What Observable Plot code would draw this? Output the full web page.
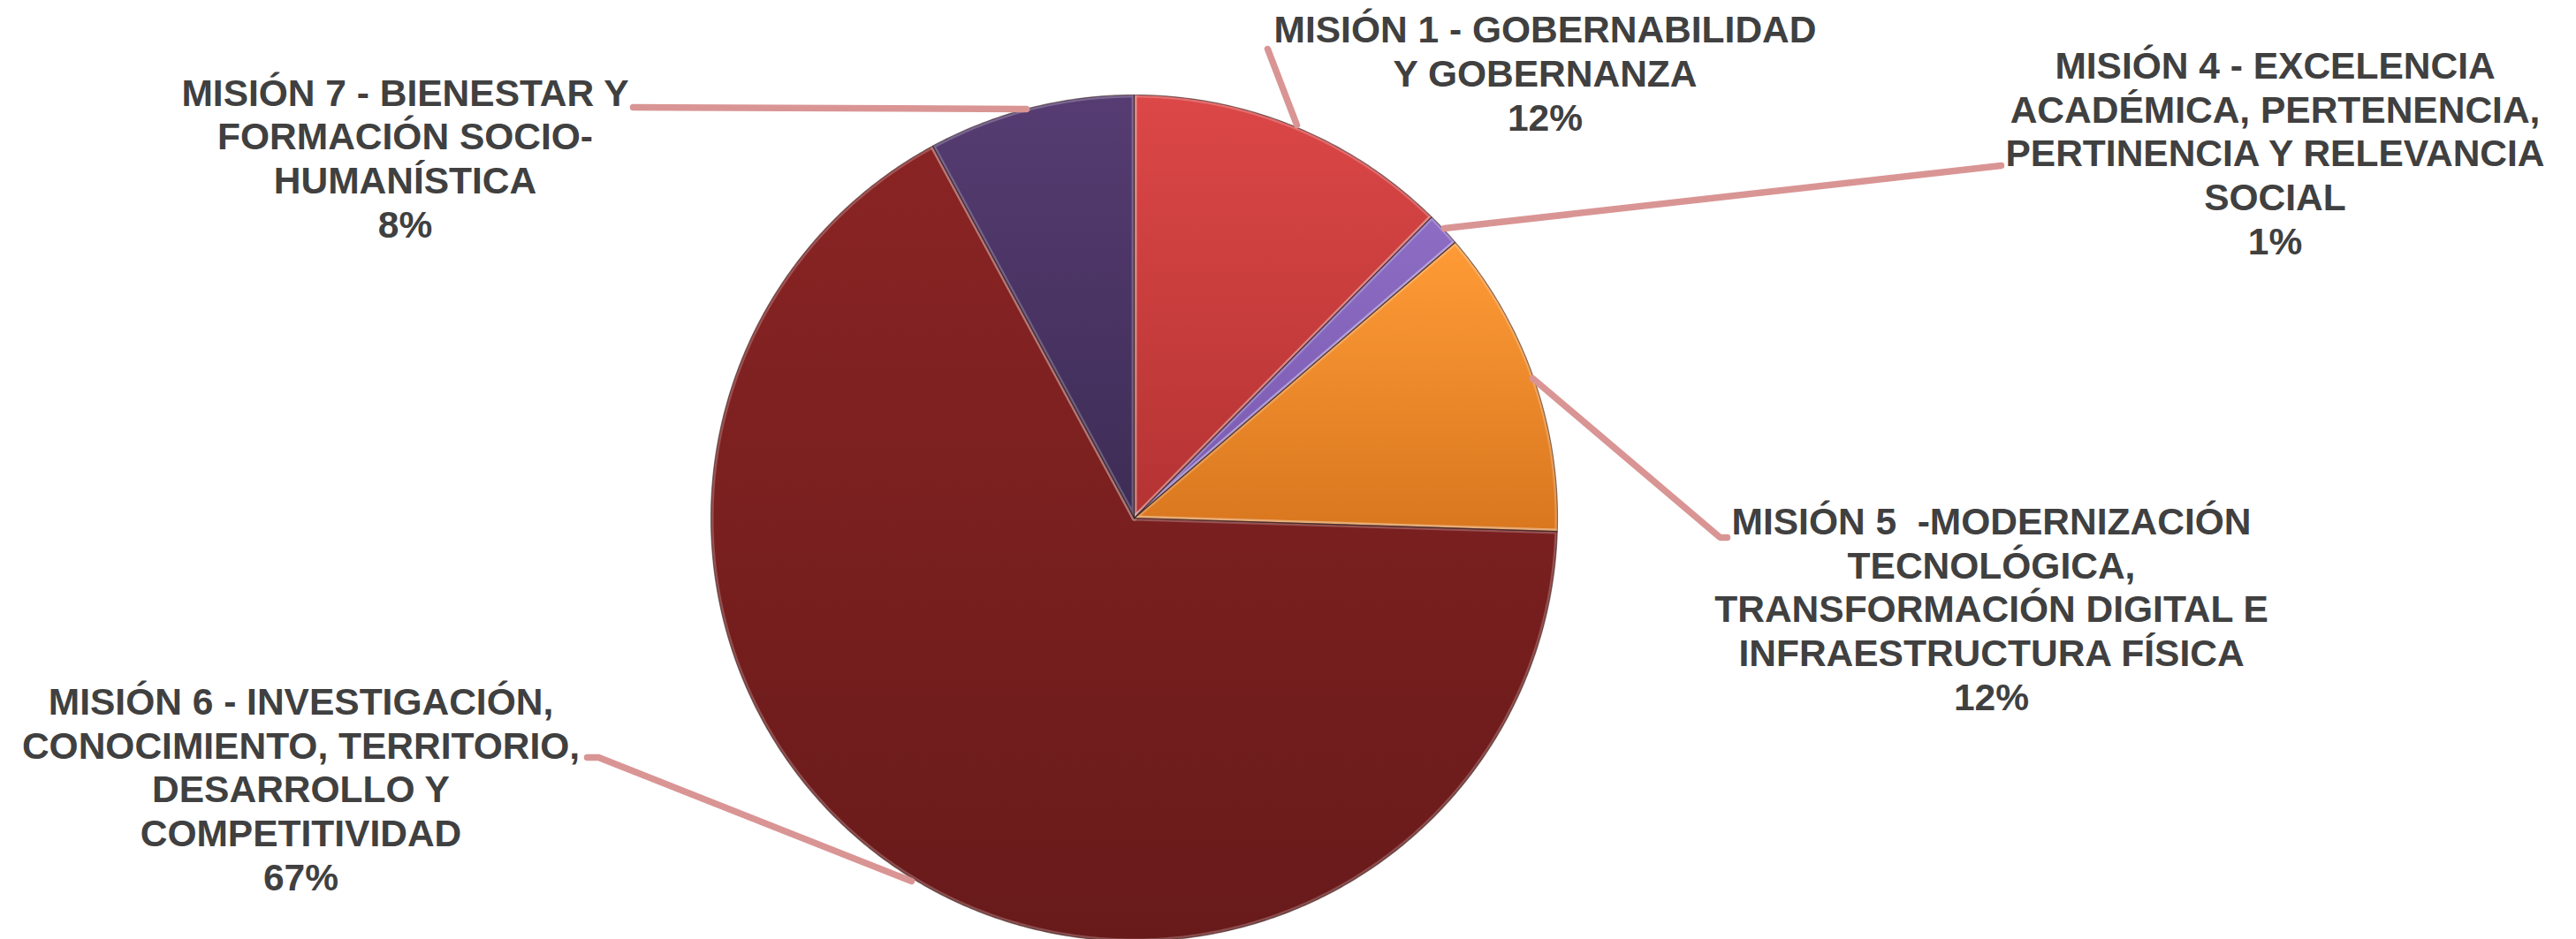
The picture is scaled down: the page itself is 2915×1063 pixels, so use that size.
<!DOCTYPE html>
<html><head><meta charset="utf-8">
<script src="https://cdn.jsdelivr.net/npm/d3@7"></script>
<script src="https://cdn.jsdelivr.net/npm/@observablehq/plot@0.6"></script>
<style>html,body{margin:0;padding:0;background:#fff;overflow:hidden}</style>
</head><body><div id="chart"></div>
<script>
// ---- data ----
const categories = [
  "MISIÓN 1 - GOBERNABILIDAD\nY GOBERNANZA",
  "MISIÓN 4 - EXCELENCIA\nACADÉMICA, PERTENENCIA,\nPERTINENCIA Y RELEVANCIA\nSOCIAL",
  "MISIÓN 5  -MODERNIZACIÓN\nTECNOLÓGICA,\nTRANSFORMACIÓN DIGITAL E\nINFRAESTRUCTURA FÍSICA",
  "MISIÓN 6 - INVESTIGACIÓN,\nCONOCIMIENTO, TERRITORIO,\nDESARROLLO Y\nCOMPETITIVIDAD",
  "MISIÓN 7 - BIENESTAR Y\nFORMACIÓN SOCIO-\nHUMANÍSTICA"
];
const values = [12.4, 1.3, 11.8, 66.6, 7.9];
const colorsTop = ["#dc4747", "#8d6cc4", "#ff9b36", "#8a2424", "#563c72"];
const colorsBottom = ["#b53333", "#7a5bb0", "#d9771f", "#681a1a", "#3d2c55"];

// ---- layout (pixels) ----
const W = 2915, H = 1063;
const pie = {cx: 1283, cy: 586, r: 479};
const labelPos = [ // x center, last baseline
  {x: 1748, y: 147},
  {x: 2574, y: 287},
  {x: 2253, y: 803},
  {x: 340, y: 1007},
  {x: 458, y: 268}
];
const leaderPaths = [
  [[1434, 55], [1467, 141]],
  [[1634, 258], [2264, 187]],
  [[1734, 428], [1946, 608], [1954, 608]],
  [[664, 857], [677, 857], [1031, 997]],
  [[716, 121], [1161, 123]]
];

// ---- derived ----
const arcs = d3.pie().sort(null).startAngle(0).endAngle(2 * Math.PI)(values);
const piePts = [];
arcs.forEach((a, i) => {
  const key = "s" + i, fill = `url(#grad${i})`;
  piePts.push({key, fill, x: pie.cx, y: pie.cy});
  const n = Math.max(2, Math.ceil((a.endAngle - a.startAngle) / (Math.PI / 360)));
  for (let k = 0; k <= n; k++) {
    const t = a.startAngle + (a.endAngle - a.startAngle) * k / n;
    piePts.push({key, fill, x: pie.cx + pie.r * Math.sin(t), y: pie.cy - pie.r * Math.cos(t)});
  }
  piePts.push({key, fill, x: pie.cx, y: pie.cy});
});
const labels = categories.map((c, i) => ({
  x: labelPos[i].x, y: labelPos[i].y,
  text: c + "\n" + Math.round(values[i]) + "%"
}));
const leaderPts = leaderPaths.flatMap((p, i) => p.map(([x, y]) => ({key: i, x, y})));

const defsMark = () => {
  const defs = d3.create("svg:defs");
  values.forEach((v, i) => {
    const g = defs.append("linearGradient").attr("id", "grad" + i)
      .attr("x1", 0).attr("y1", 0).attr("x2", 0).attr("y2", 1);
    g.append("stop").attr("offset", "0%").attr("stop-color", colorsTop[i]);
    g.append("stop").attr("offset", "100%").attr("stop-color", colorsBottom[i]);
  });
  return defs.node();
};

const chart = Plot.plot({
  width: W, height: H,
  margin: 0,
  x: {axis: null, domain: [0, W], range: [0, W]},
  y: {axis: null, domain: [0, H], range: [0, H]},
  color: {type: "identity"},
  style: {background: "white", overflow: "visible"},
  marks: [
    defsMark,
    Plot.line(piePts, {x: "x", y: "y", z: "key", fill: "fill", stroke: "#ffffff", strokeOpacity: 0.22, strokeWidth: 6, curve: "linear"}),
    Plot.line(piePts, {x: "x", y: "y", z: "key", stroke: "#2b1515", strokeOpacity: 0.55, strokeWidth: 1.2, curve: "linear"}),
    Plot.line(leaderPts, {x: "x", y: "y", z: "key", stroke: "#d99594", strokeWidth: 7.5, curve: "linear", strokeLinejoin: "miter"}),
    Plot.text(labels, {
      x: "x", y: "y", text: "text",
      lineAnchor: "bottom", lineHeight: 1.165,
      fontSize: 42.5, fontWeight: "bold",
      fontFamily: "'Liberation Sans', Arial, sans-serif",
      fill: "#404040", textAnchor: "middle"
    })
  ]
});
document.getElementById("chart").appendChild(chart);
</script>
</body></html>
